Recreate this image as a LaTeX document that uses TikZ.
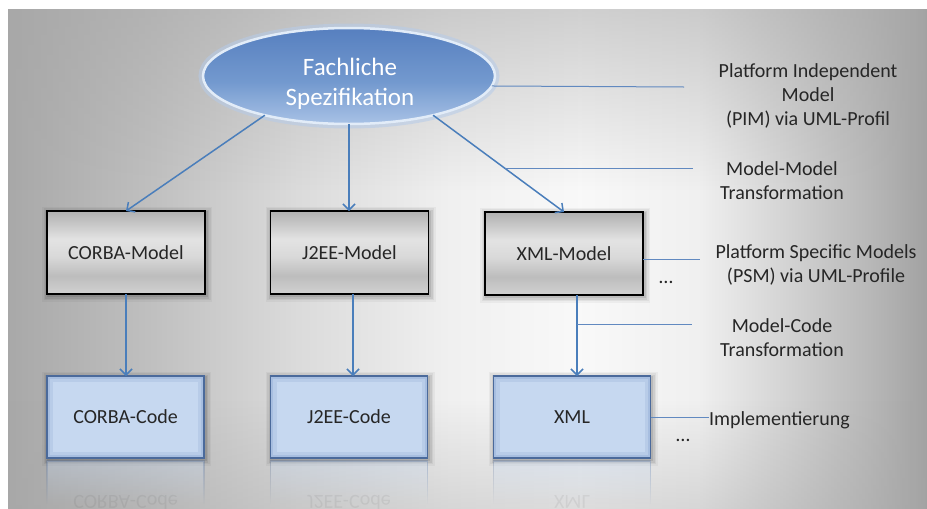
\documentclass[tikz,border=0pt]{standalone}
\usepackage{fontspec}
\setmainfont{Carlito}
\usetikzlibrary{arrows.meta,shapes.geometric,fadings,calc}

\definecolor{linkblue}{HTML}{4A7EBB}
\definecolor{leaderblue}{HTML}{6189C0}
\definecolor{labeltext}{HTML}{262626}
\definecolor{codefill}{HTML}{C6D8F0}
\definecolor{codeedge}{HTML}{4B6A9B}
\definecolor{codeinner}{HTML}{A7BEE0}
\definecolor{specrim}{HTML}{E2ECF8}
\definecolor{specglow}{HTML}{B5CBEA}
\definecolor{bgbase}{HTML}{A7A7A7}

% slide backdrop: grey at the sides, almost white right of centre (path spans 25bp..75bp)
\pgfdeclarehorizontalshading{bghoriz}{100bp}{rgb(0bp)=(0.66,0.66,0.66); rgb(25bp)=(0.66,0.66,0.66); rgb(32.7bp)=(0.75,0.75,0.75); rgb(40.9bp)=(0.86,0.86,0.86); rgb(49bp)=(0.94,0.94,0.94); rgb(56.1bp)=(0.975,0.975,0.975); rgb(62.6bp)=(0.94,0.94,0.94); rgb(68.1bp)=(0.81,0.81,0.81); rgb(71.9bp)=(0.72,0.72,0.72); rgb(75bp)=(0.635,0.635,0.635); rgb(100bp)=(0.635,0.635,0.635)}
% metallic grey for the model boxes (box spans 25bp..75bp)
\pgfdeclareverticalshading{modelfill}{100bp}{rgb(0bp)=(0.82,0.82,0.82); rgb(25bp)=(0.82,0.82,0.82); rgb(36bp)=(0.74,0.74,0.74); rgb(47.5bp)=(0.85,0.85,0.85); rgb(58bp)=(0.89,0.89,0.89); rgb(75bp)=(0.69,0.69,0.69); rgb(100bp)=(0.69,0.69,0.69)}
% blue body of the specification ellipse
\pgfdeclareverticalshading{specfill}{100bp}{rgb(0bp)=(0.66,0.76,0.90); rgb(25bp)=(0.66,0.76,0.90); rgb(47bp)=(0.45,0.60,0.81); rgb(75bp)=(0.34,0.50,0.75); rgb(100bp)=(0.34,0.50,0.75)}

\pgfdeclarelayer{backdrop}
\pgfdeclarelayer{shadow}
\pgfsetlayers{backdrop,shadow,main}

\tikzset{
  boxfont/.style={font=\fontsize{20}{24}\selectfont},
  modelbox/.style={boxfont, text=labeltext, draw=black, line width=1.1pt, shade, shading=modelfill,
    minimum width=158pt, minimum height=83pt, inner sep=0pt, outer sep=0pt},
  codebox/.style={boxfont, text=labeltext, draw=codeedge, line width=1.8pt, fill=codefill,
    minimum width=157pt, minimum height=82pt, inner sep=0pt, outer sep=0pt},
  specshape/.style={ellipse, minimum width=292pt, minimum height=96pt, inner sep=0pt, outer sep=0pt,
    shade, shading=specfill, draw=specrim, line width=2.5pt,
    preaction={draw=specglow, line width=9pt, opacity=0.55}},
  spectext/.style={font=\fontsize{25}{30}\selectfont, text=white, align=center},
  note/.style={boxfont, text=labeltext, align=center, inner sep=0pt, outer sep=0pt},
  flow/.style={draw=linkblue, line width=1.5pt, -{Straight Barb[length=6pt,width=12pt]}},
  leader/.style={draw=leaderblue, line width=1pt},
}

\begin{document}
\begin{tikzpicture}[x=1pt,y=-1pt]
\useasboundingbox (0,0) rectangle (927,509);

\begin{pgfonlayer}{backdrop}
  \fill[white] (0,0) rectangle (927,509);
  \begin{scope}
    \clip (8,9) rectangle (927,509);
    \shade[shading=bghoriz] (8,9) rectangle (927,509);
    % greyer towards the top and the bottom edge
    \fill[bgbase, opacity=0.5, path fading=south] (8,9) rectangle (927,190);
    \fill[bgbase, opacity=0.35, path fading=north] (8,400) rectangle (927,509);
  \end{scope}
\end{pgfonlayer}

% specification
\node[specshape] (spec) at (349,76) {};
\node[spectext] (specLabel) at (350,84) {Fachliche\\Spezifikation};

% platform specific models
\node[modelbox] (corbaM) at (126,252.5) {CORBA-Model};
\node[modelbox] (j2eeM) at (349.5,252.5) {J2EE-Model};
\node[modelbox] (xmlM) at (564,253.5) {XML-Model};

% generated code
\node[codebox] (corbaC) at (125.5,417) {CORBA-Code};
\node[codebox] (j2eeC) at (349,417) {J2EE-Code};
\node[codebox] (xmlC) at (572,417) {XML};

% inner glow of the code boxes
\foreach \n in {corbaC,j2eeC,xmlC}{
  \draw[codeinner, line width=6pt, opacity=0.45] ($(\n.north west)+(3,3)$) rectangle ($(\n.south east)+(-3,-3)$);
  \draw[codeinner, line width=2.5pt] ($(\n.north west)+(1.5,1.5)$) rectangle ($(\n.south east)+(-1.5,-1.5)$);
  \draw[codeedge, line width=1.8pt] (\n.north west) rectangle (\n.south east);
}

% soft shadows behind all boxes
\begin{pgfonlayer}{shadow}
  \foreach \n in {corbaM,j2eeM,xmlM,corbaC,j2eeC,xmlC}{
    \foreach \g/\op in {6/0.04,4.5/0.05,3/0.07,1.5/0.09}{
      \fill[black, opacity=\op] ($(\n.south west)+(-\g+1,\g+1.5)$) rectangle ($(\n.north east)+(\g+1,-\g+1.5)$);
    }
  }
\end{pgfonlayer}

% mirrored reflections under the code boxes
\begin{scope}
  \clip (8,9) rectangle (927,509);
  \foreach \n/\t in {corbaC/CORBA-Code, j2eeC/J2EE-Code, xmlC/XML}{
    \fill[codefill, path fading=south, opacity=0.35] ($(\n.south west)+(0,3)$) rectangle ($(\n.south east)+(0,46)$);
    \draw[codeedge, line width=1.5pt, path fading=south, opacity=0.3]
      ($(\n.south west)+(0,46)$) -- ($(\n.south west)+(0,3)$) -- ($(\n.south east)+(0,3)$) -- ($(\n.south east)+(0,46)$);
    \node[boxfont, text=labeltext, opacity=0.07, yscale=-1] (\n Mirror) at ($(\n.south)+(0,44)$) {\t};
  }
\end{scope}

% model-to-model transformations
\draw[flow] (spec.205) -- (corbaM.north);
\draw[flow] (spec.south) -- (spec.south |- j2eeM.north);
\draw[flow] (spec.-25) -- coordinate[pos=0.546] (mmTap) (xmlM.north);

% model-to-code transformations
\draw[flow] (corbaM.south) -- (corbaM.south |- corbaC.north);
\draw[flow] ([xshift=3.5pt]j2eeM.south) -- ([xshift=3.5pt]j2eeM.south |- j2eeC.north);
\draw[flow] ([xshift=13pt]xmlM.south) -- coordinate[pos=0.37] (mcTap) ([xshift=13pt]xmlM.south |- xmlC.north);

% explanations on the right
\node[note] (pimText) at (808,96) {Platform Independent\\Model\\(PIM) via UML-Profil};
\node[note] (mmText) at (782,181) {Model-Model\\Transformation};
\node[note] (psmText) at (816,265) {Platform Specific Models\\(PSM) via UML-Profile};
\node[note] (mcText) at (782,338) {Model-Code\\Transformation};
\node[note, anchor=west] (implText) at (709,420) {Implementierung};
\node[note] (dotsM) at (666,282) {\dots};
\node[note] (dotsC) at (683,440) {\dots};

\coordinate (pimEnd) at (684,87);
\coordinate (mmEnd) at (693,168);
\coordinate (psmEnd) at (700,259);
\coordinate (mcEnd) at (692,325);

\draw[leader] (spec.-4.4) -- (pimEnd);
\draw[leader] (mmTap) -- (mmTap -| mmEnd);
\draw[leader] (psmEnd -| xmlM.east) -- (psmEnd);
\draw[leader] (mcTap) -- (mcTap -| mcEnd);
\draw[leader] (xmlC.east) -- (xmlC.east -| implText.west);
\end{tikzpicture}
\end{document}
